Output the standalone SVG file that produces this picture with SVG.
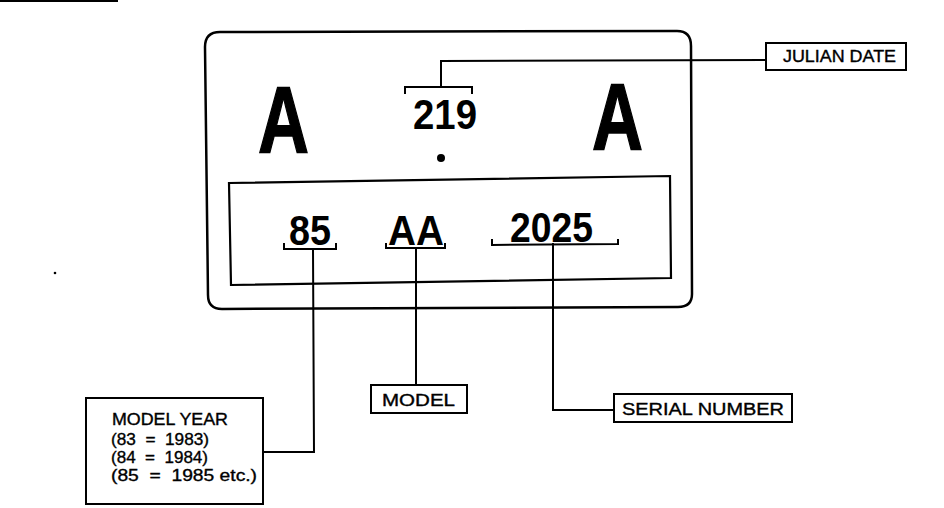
<svg xmlns="http://www.w3.org/2000/svg" width="944" height="508" viewBox="0 0 944 508">
<style>
.ln{fill:none;stroke:#000;stroke-width:2;stroke-linecap:square}
.bx{fill:#fff;stroke:#000;stroke-width:2}
.big{font-family:"Liberation Sans",Arial,sans-serif;font-weight:bold;fill:#000}
.lbl{font-family:"Liberation Sans",Arial,sans-serif;fill:#000;stroke:#000;stroke-width:0.35}
</style>
<rect width="944" height="508" fill="#fff"/>
<line x1="0" y1="1" x2="118" y2="1" stroke="#000" stroke-width="2"/>
<circle cx="55" cy="273" r="1.3" fill="#000"/>
<g id="plate">
<path d="M205,47 Q205,32 220,32 L677,31 Q691,31 691,46 L692,294 Q692,307 678,307 L222,309 Q208,309 208,295 Z" fill="none" stroke="#000" stroke-width="2.5"/>
<polygon points="229,183 670,176 671,278 231,285" fill="none" stroke="#000" stroke-width="2.2"/>
<text class="big" x="258" y="153" font-size="94" textLength="51" lengthAdjust="spacingAndGlyphs" stroke="#000" stroke-width="1.5">A</text>
<text class="big" x="592" y="150" font-size="94" textLength="51" lengthAdjust="spacingAndGlyphs" stroke="#000" stroke-width="1.5">A</text>
<text class="big" x="413" y="129" font-size="43" textLength="64" lengthAdjust="spacingAndGlyphs">219</text>
<circle cx="441" cy="158" r="4" fill="#000"/>
<text class="big" x="289" y="245" font-size="43" textLength="42" lengthAdjust="spacingAndGlyphs">85</text>
<text class="big" x="388" y="245" font-size="43" textLength="56" lengthAdjust="spacingAndGlyphs">AA</text>
<text class="big" x="510" y="242" font-size="43" textLength="83" lengthAdjust="spacingAndGlyphs">2025</text>
</g>
<g id="connectors">
<polyline class="ln" points="405,93 405,87 472,87 472,93"/>
<polyline class="ln" points="441,87 441,61 766,60"/>
<polyline class="ln" points="284,244 284,249 336,249 336,244"/>
<polyline class="ln" points="313,249 314,452 262,452"/>
<polyline class="ln" points="386,244 386,248 445,248 445,244"/>
<polyline class="ln" points="416,248 416,385"/>
<polyline class="ln" points="492,240 492,245 618,244 618,240"/>
<polyline class="ln" points="553,244 553,410 614,410"/>
</g>
<g id="julian-date">
<rect class="bx" x="766" y="43" width="140" height="27"/>
<text class="lbl" x="783" y="62" font-size="16" textLength="113" lengthAdjust="spacingAndGlyphs">JULIAN DATE</text>
</g>
<g id="model">
<rect class="bx" x="371" y="385" width="96" height="28"/>
<text class="lbl" x="382" y="406" font-size="16" textLength="73" lengthAdjust="spacingAndGlyphs">MODEL</text>
</g>
<g id="serial-number">
<rect class="bx" x="614" y="394" width="178" height="28"/>
<text class="lbl" x="622" y="415" font-size="16" textLength="162" lengthAdjust="spacingAndGlyphs">SERIAL NUMBER</text>
</g>
<g id="model-year">
<rect class="bx" x="86" y="398" width="177" height="106"/>
<text class="lbl" x="112" y="425" font-size="16" textLength="116" lengthAdjust="spacingAndGlyphs">MODEL YEAR</text>
<text class="lbl" x="111" y="445" font-size="16" xml:space="preserve" textLength="98" lengthAdjust="spacingAndGlyphs">(83  =  1983)</text>
<text class="lbl" x="111" y="463" font-size="16" xml:space="preserve" textLength="97" lengthAdjust="spacingAndGlyphs">(84  =  1984)</text>
<text class="lbl" x="111" y="481" font-size="16" xml:space="preserve" textLength="146" lengthAdjust="spacingAndGlyphs">(85  =  1985 etc.)</text>
</g>
</svg>
